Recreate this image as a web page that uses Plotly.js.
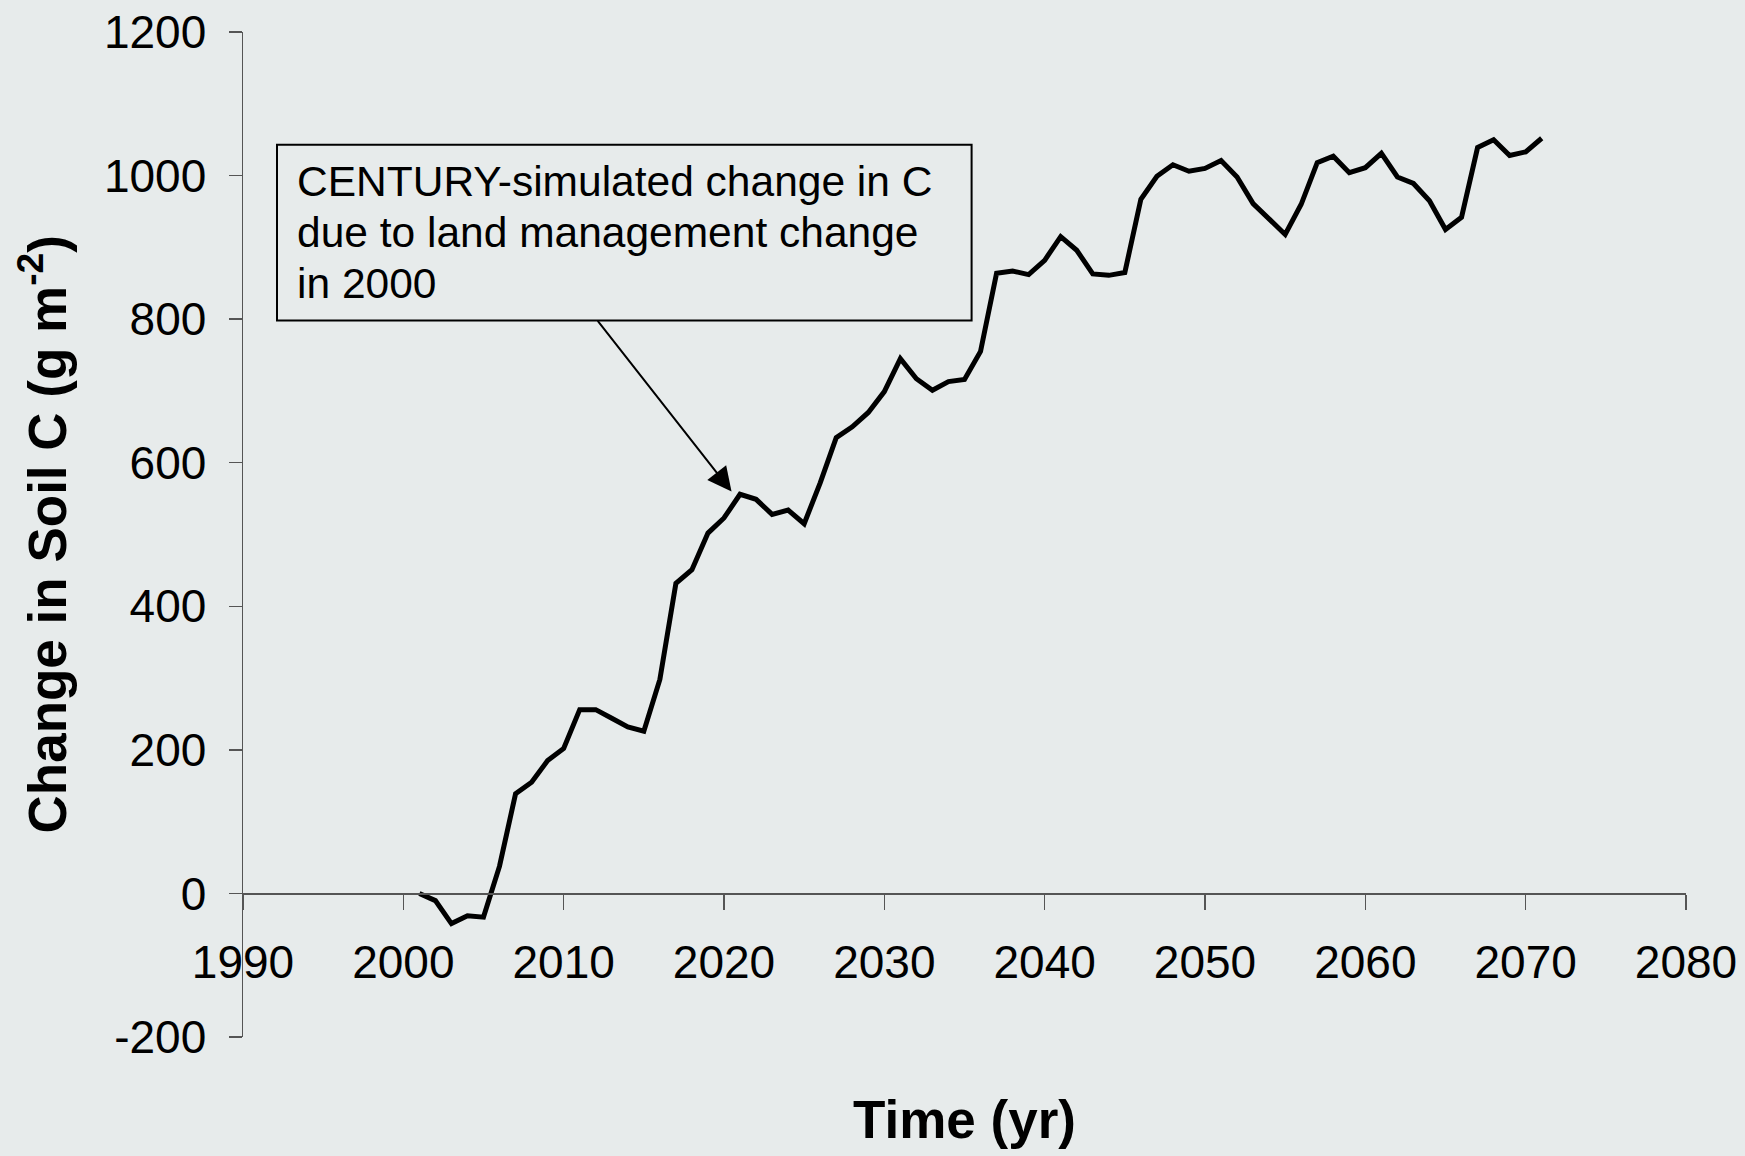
<!DOCTYPE html>
<html>
<head>
<meta charset="utf-8">
<script src="https://cdn.plot.ly/plotly-3.0.1.min.js"></script>
<style>
  html, body { margin: 0; padding: 0; background: #e7ebeb; }
  #chart { width: 1745px; height: 1156px; }
</style>
</head>
<body>
<div id="chart"></div>
<script>
// Simulated soil carbon change after the 2000 land management change
const years = [
  2001, 2002, 2003, 2004, 2005, 2006, 2007, 2008, 2009, 2010,
  2011, 2012, 2013, 2014, 2015, 2016, 2017, 2018, 2019, 2020,
  2021, 2022, 2023, 2024, 2025, 2026, 2027, 2028, 2029, 2030,
  2031, 2032, 2033, 2034, 2035, 2036, 2037, 2038, 2039, 2040,
  2041, 2042, 2043, 2044, 2045, 2046, 2047, 2048, 2049, 2050,
  2051, 2052, 2053, 2054, 2055, 2056, 2057, 2058, 2059, 2060,
  2061, 2062, 2063, 2064, 2065, 2066, 2067, 2068, 2069, 2070,
  2071
];
const soilC = [
  0, -10, -42, -31, -33, 38, 139, 155, 185, 202,
  256, 256, 244, 232, 226, 298, 432, 451, 502, 523,
  556, 549, 528, 534, 515, 572, 635, 650, 670, 699,
  745, 717, 701, 713, 716, 755, 864, 867, 862, 882,
  915, 896, 863, 861, 865, 967, 999, 1015, 1006, 1010,
  1021, 998, 961, 940, 918, 960, 1018, 1027, 1004, 1011,
  1031, 998, 989, 965, 925, 942, 1039, 1050, 1028, 1033,
  1052
];
const xTickVals = [1990, 2000, 2010, 2020, 2030, 2040, 2050, 2060, 2070, 2080];
const yTickVals = [-200, 0, 200, 400, 600, 800, 1000, 1200];
const yTickText = ["-200", "0", "200", "400", "600", "800", "1000", "1200"];
const yTitle = 'Change in Soil C (g m<sup>-2</sup>)';
const noteLines = [
  "CENTURY-simulated change in C",
  "due to land management change",
  "in 2000"
];

const FONT = '"Liberation Sans", Arial, Helvetica, sans-serif';
const BG = '#e7ebeb';
const AXIS = '#555555';

const W = 1745, H = 1156;
const M = { l: 243, r: 59, t: 32, b: 119 };
const plotW = W - M.l - M.r, plotH = H - M.t - M.b;
// pixel -> paper fraction helpers for the callout box and side title
const px = x => (x - M.l) / plotW;
const py = y => (H - M.b - y) / plotH;

const trace = {
  x: years,
  y: soilC,
  type: 'scatter',
  mode: 'lines',
  line: { color: '#000000', width: 5 },
  hoverinfo: 'x+y'
};

const annotations = noteLines.map((t, i) => ({
  xref: 'paper', yref: 'paper',
  x: px(295), y: py(156 + i * 51),
  xanchor: 'left', yanchor: 'top',
  text: t, showarrow: false,
  font: { family: FONT, size: 42.5, color: '#000000' }
}));

// callout arrow from the box to the curve
annotations.push({
  xref: 'x', yref: 'y',
  x: 2020.47, y: 560,
  axref: 'pixel', ayref: 'pixel',
  ax: -135, ay: -172,
  text: '',
  showarrow: true,
  arrowhead: 2, arrowsize: 2.4, arrowwidth: 2,
  arrowcolor: '#000000'
});

// vertical axis title, placed in the left margin
annotations.push({
  xref: 'paper', yref: 'paper',
  x: px(43), y: 0.5,
  xanchor: 'center', yanchor: 'middle',
  textangle: -90,
  text: '<b>' + yTitle + '</b>',
  showarrow: false,
  font: { family: FONT, size: 53, color: '#000000' }
});

const layout = {
  width: W, height: H,
  margin: M,
  paper_bgcolor: BG,
  plot_bgcolor: BG,
  showlegend: false,
  font: { family: FONT, color: '#000000' },
  xaxis: {
    range: [1990, 2080],
    tickvals: xTickVals,
    ticks: 'outside', ticklen: 15, tickwidth: 1.5, tickcolor: AXIS,
    showline: true, linecolor: AXIS, linewidth: 1.5,
    showgrid: false, zeroline: false,
    anchor: 'free', position: 200 / 1400,
    tickfont: { family: FONT, size: 46, color: '#000000' },
    ticklabelstandoff: 13,
    title: {
      text: '<b>Time (yr)</b>',
      font: { family: FONT, size: 53, color: '#000000' },
      standoff: 114
    },
    automargin: false
  },
  yaxis: {
    range: [-200, 1200],
    tickvals: yTickVals,
    ticktext: yTickText,
    ticks: 'outside', ticklen: 13, tickwidth: 1.5, tickcolor: AXIS,
    showline: true, linecolor: AXIS, linewidth: 1.5,
    showgrid: false, zeroline: false,
    tickfont: { family: FONT, size: 46, color: '#000000' },
    ticklabelstandoff: 13,
    automargin: false
  },
  shapes: [{
    type: 'rect', xref: 'paper', yref: 'paper',
    x0: px(277), x1: px(971.6), y0: py(320.5), y1: py(144.7),
    line: { color: '#000000', width: 2 },
    fillcolor: 'rgba(0,0,0,0)'
  }],
  annotations: annotations
};

Plotly.newPlot('chart', [trace], layout, { displayModeBar: false, staticPlot: true });
</script>
</body>
</html>
